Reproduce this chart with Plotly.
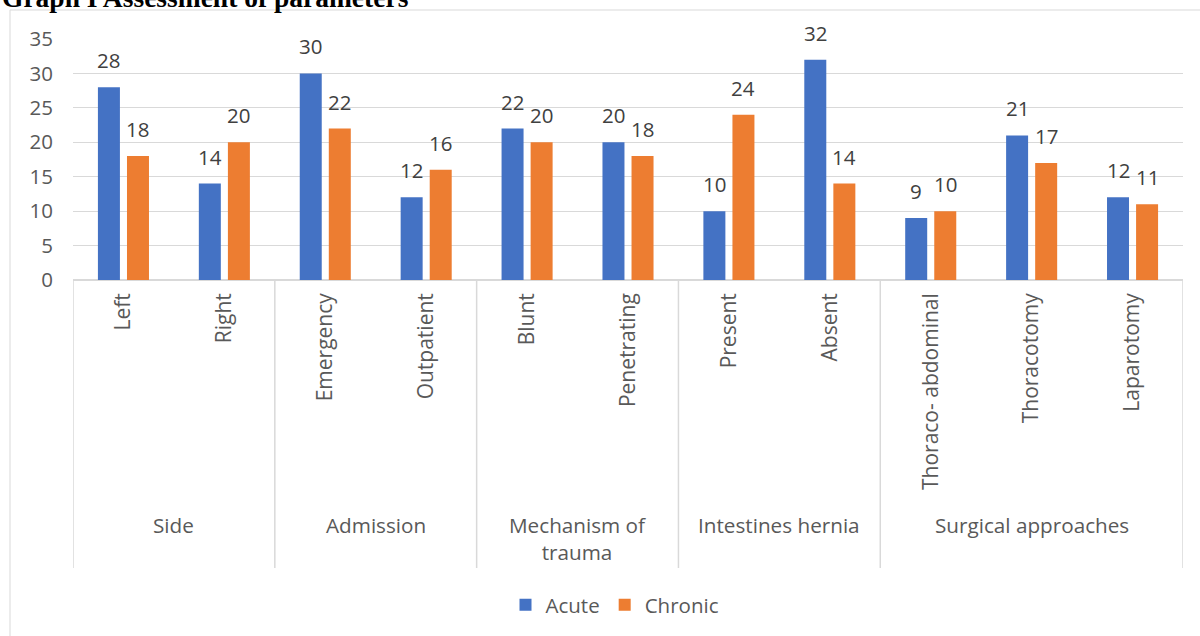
import plotly.graph_objects as go

# ---- data ----
groups = ["Side", "Admission", "Mechanism of<br>trauma", "Intestines hernia", "Surgical approaches"]
group_sizes = [2, 2, 2, 2, 3]
categories = ["Left", "Right", "Emergency", "Outpatient", "Blunt", "Penetrating",
              "Present", "Absent", "Thoraco- abdominal", "Thoracotomy", "Laparotomy"]
acute = [28, 14, 30, 12, 22, 20, 10, 32, 9, 21, 12]
chronic = [18, 20, 22, 16, 20, 18, 24, 14, 10, 17, 11]
series_names = ["Acute", "Chronic"]
series_colors = ["#4472C4", "#ED7D31"]
y_ticks = [0, 5, 10, 15, 20, 25, 30, 35]

FONT = "Open Sans"
GRAY = "#595959"
LINE = "#d9d9d9"

W, H = 1200, 636
ML, MR, MT, MB = 73, 17, 39, 356
PW, PH = W - ML - MR, H - MT - MB

def py(pix):  # page pixel y -> paper y
    return (H - MB - pix) / PH

def px(pix):  # page pixel x -> paper x
    return (pix - ML) / PW

idx = list(range(len(categories)))
off = 0.144
bw = 0.218

fig = go.Figure()
for name, vals, col, sgn in zip(series_names, [acute, chronic], series_colors, [-1, 1]):
    fig.add_trace(go.Bar(
        x=[i + sgn * off for i in idx], y=vals, width=bw, name=name,
        marker=dict(color=col, line=dict(width=0)),
    ))
    for i, v in zip(idx, vals):
        fig.add_annotation(x=i + sgn * off, y=v, xref="x", yref="y", text=str(v),
                           showarrow=False, yanchor="middle", yshift=27,
                           font=dict(family=FONT, size=20.5, color="#404040"))

# group dividers
bounds = [-0.5]
for s in group_sizes:
    bounds.append(bounds[-1] + s)
for b in bounds:
    fig.add_shape(type="line", xref="x", yref="paper", x0=b, x1=b, y0=0, y1=py(568),
                  line=dict(color=LINE, width=1.5))
# group labels
for g, lo, hi in zip(groups, bounds[:-1], bounds[1:]):
    fig.add_annotation(x=(lo + hi) / 2, y=py(509), xref="x", yref="paper", text=g,
                       showarrow=False, yanchor="top", xanchor="center",
                       font=dict(family=FONT, size=20.7, color=GRAY))

# outer frame
fig.add_shape(type="rect", xref="paper", yref="paper", x0=px(10), x1=px(1210),
              y0=py(646), y1=py(10), line=dict(color=LINE, width=1), layer="below")

# title (partly cut off at the top edge, as in the source)
fig.add_annotation(x=px(0), y=py(-2), xref="paper", yref="paper", xanchor="left",
                   yanchor="middle", showarrow=False,
                   text="<b>Graph I Assessment of parameters</b>",
                   font=dict(family="Liberation Serif", size=27.5, color="#000000"))

fig.update_layout(
    width=W, height=H, margin=dict(l=ML, r=MR, t=MT, b=MB),
    paper_bgcolor="white", plot_bgcolor="white",
    barmode="overlay",
    showlegend=True,
    legend=dict(orientation="h", x=px(615), xanchor="center", y=py(605), yanchor="middle",
                font=dict(family=FONT, size=20.5, color=GRAY), itemwidth=30,
                bgcolor="rgba(0,0,0,0)"),
    xaxis=dict(range=[-0.5, len(categories) - 0.5], tickvals=idx, ticktext=categories,
               tickangle=-90, showgrid=False, zeroline=False, showline=False,
               ticks="", ticklabelstandoff=8,
               tickfont=dict(family=FONT, size=21, color=GRAY)),
    yaxis=dict(range=[0, 35], tickvals=y_ticks, showgrid=True, gridcolor=LINE, gridwidth=1,
               zeroline=True, zerolinecolor=LINE, zerolinewidth=1.5, showline=False,
               ticks="", ticklabelstandoff=19,
               tickfont=dict(family=FONT, size=20.5, color=GRAY)),
)

fig.write_html("out.html")
